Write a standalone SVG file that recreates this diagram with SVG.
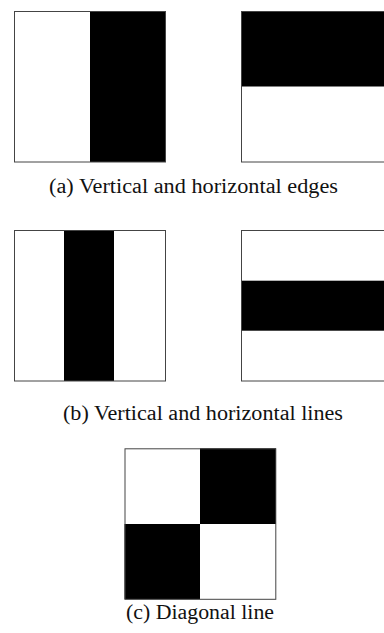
<svg xmlns="http://www.w3.org/2000/svg" width="384" height="633" viewBox="0 0 384 633">
<style>
.frame{fill:none;stroke:#444;stroke-width:1}
.bg{fill:#fff}
.blk{fill:#000}
.cap{font-family:"Liberation Serif","DejaVu Serif",serif;font-size:20px;fill:#111;text-anchor:middle}
</style>
<rect x="0" y="0" width="384" height="633" fill="#fff"/>
<g id="a-vertical-edge">
<rect class="bg" x="14" y="11" width="152" height="151"/>
<rect class="blk" x="90" y="11" width="76" height="151"/>
<rect class="frame" x="14.5" y="11.5" width="151" height="150.5"/>
</g>
<g id="a-horizontal-edge">
<rect class="bg" x="241" y="11" width="152" height="151"/>
<rect class="blk" x="241" y="11" width="152" height="75.5"/>
<rect class="frame" x="241.5" y="11.5" width="151" height="150.5"/>
</g>
<text id="caption-a" class="cap" x="193.5" y="193" textLength="289" lengthAdjust="spacingAndGlyphs">(a) Vertical and horizontal edges</text>
<g id="b-vertical-line">
<rect class="bg" x="14" y="230" width="152" height="151"/>
<rect class="blk" x="64" y="230" width="50" height="151"/>
<rect class="frame" x="14.5" y="230.5" width="151" height="150.5"/>
</g>
<g id="b-horizontal-line">
<rect class="bg" x="241" y="230" width="152" height="151"/>
<rect class="blk" x="241" y="280.7" width="152" height="50"/>
<rect class="frame" x="241.5" y="230.5" width="151" height="150.5"/>
</g>
<text id="caption-b" class="cap" x="203" y="420" textLength="280" lengthAdjust="spacingAndGlyphs">(b) Vertical and horizontal lines</text>
<g id="c-diagonal">
<rect class="bg" x="124.5" y="448.3" width="151.5" height="151"/>
<rect class="blk" x="200" y="448.3" width="76" height="75.7"/>
<rect class="blk" x="124.5" y="524" width="75.5" height="75.3"/>
<rect class="frame" x="125" y="448.8" width="150.8" height="150.5"/>
</g>
<text id="caption-c" class="cap" x="200" y="619" textLength="148" lengthAdjust="spacingAndGlyphs">(c) Diagonal line</text>
</svg>
